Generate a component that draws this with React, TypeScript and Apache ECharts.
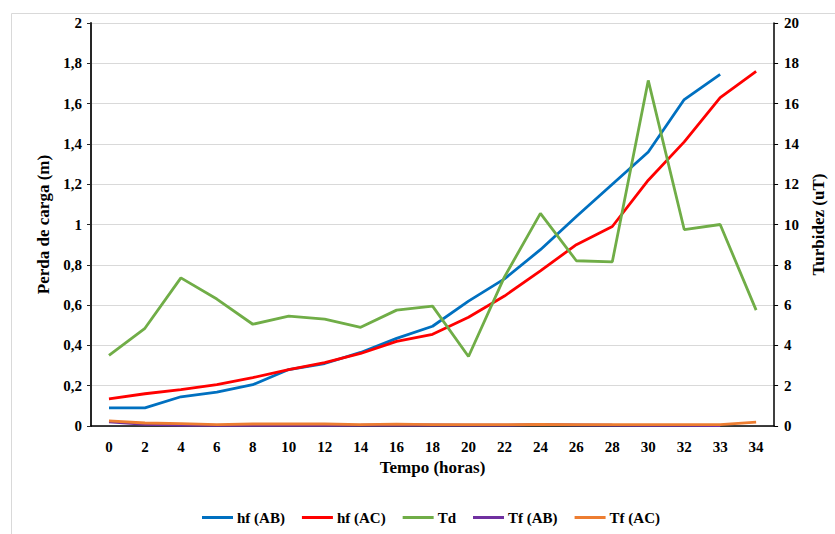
import React, { useEffect, useRef } from "react";
import * as echarts from "echarts";

const categories = ["0", "2", "4", "6", "8", "10", "12", "14", "16", "18", "20", "22", "24", "26", "28", "30", "32", "33", "34"];
const hfAB = [0.09, 0.09, 0.145, 0.168, 0.205, 0.28, 0.31, 0.365, 0.435, 0.495, 0.62, 0.73, 0.875, 1.04, 1.2, 1.36, 1.62, 1.745, null];
const hfAC = [0.135, 0.16, 0.18, 0.205, 0.24, 0.28, 0.315, 0.36, 0.42, 0.455, 0.54, 0.645, 0.77, 0.9, 0.99, 1.22, 1.41, 1.63, 1.76];
const td = [3.5, 4.85, 7.35, 6.3, 5.05, 5.45, 5.3, 4.9, 5.75, 5.95, 3.45, 7.4, 10.55, 8.2, 8.15, 17.15, 9.75, 10.0, 5.75];
const tfAB = [0.2, 0.08, 0.05, 0.03, 0.03, 0.03, 0.03, 0.04, 0.06, 0.05, 0.04, 0.04, 0.08, 0.06, 0.04, 0.03, 0.03, 0.02, null];
const tfAC = [0.25, 0.15, 0.12, 0.07, 0.1, 0.1, 0.1, 0.07, 0.09, 0.07, 0.07, 0.07, 0.08, 0.07, 0.07, 0.07, 0.07, 0.07, 0.19];

const FONT = "Liberation Serif";

export default function App() {
  const ref = useRef<HTMLDivElement>(null);
  useEffect(() => {
    if (!ref.current) return;
    const chart = echarts.init(ref.current, undefined, { renderer: "svg" });
    const lineSeries = (name: string, data: (number | null)[], color: string, yAxisIndex: number) => ({
      name,
      type: "line",
      data,
      yAxisIndex,
      symbol: "none",
      smooth: false,
      lineStyle: { color, width: 2.8 },
      itemStyle: { color },
    });
    const txt = (size: number) => ({ fontFamily: FONT, fontWeight: "bold", fontSize: size, color: "#000" });
    chart.setOption({
      animation: false,
      backgroundColor: "#fff",
      textStyle: { fontFamily: FONT },
      graphic: [
        {
          type: "rect",
          shape: { x: 11.5, y: 13.5, width: 840, height: 540 },
          style: { fill: "none", stroke: "#d9d9d9", lineWidth: 1 },
          silent: true,
        },
      ],
      grid: { left: 91, right: 58, top: 23, bottom: 108, containLabel: false },
      legend: {
        bottom: 4,
        left: 197,
        icon: "rect",
        itemWidth: 31,
        itemHeight: 3,
        itemGap: 17,
        textStyle: { ...txt(15), padding: [0, 0, 0, -1] },
      },
      xAxis: {
        type: "category",
        data: categories,
        boundaryGap: true,
        name: "Tempo (horas)",
        nameLocation: "middle",
        nameGap: 33,
        nameTextStyle: txt(17),
        axisLine: { lineStyle: { color: "#000", width: 1.5 } },
        axisTick: { show: false },
        axisLabel: { ...txt(15), margin: 13, interval: 0 },
      },
      yAxis: [
        {
          type: "value",
          min: 0,
          max: 2,
          interval: 0.2,
          name: "Perda de carga (m)",
          nameLocation: "middle",
          nameGap: 37,
          nameTextStyle: txt(17),
          axisLine: { show: true, lineStyle: { color: "#262626", width: 2 } },
          axisTick: { show: true, length: 4, lineStyle: { color: "#262626" } },
          splitLine: { show: true, lineStyle: { color: "#d9d9d9", width: 1 } },
          axisLabel: {
            ...txt(15),
            margin: 9,
            formatter: (v: number) => {
              const r = Math.round(v * 10) / 10;
              return String(r).replace(".", ",");
            },
          },
        },
        {
          type: "value",
          min: 0,
          max: 20,
          interval: 2,
          name: "Turbidez (uT)",
          nameLocation: "middle",
          nameGap: 32,
          nameTextStyle: txt(17),
          axisLine: { show: true, lineStyle: { color: "#000", width: 1.5 } },
          axisTick: { show: true, length: 4, lineStyle: { color: "#000" } },
          splitLine: { show: false },
          axisLabel: { ...txt(15), margin: 10 },
        },
      ],
      series: [
        lineSeries("hf (AB)", hfAB, "#0070C0", 0),
        lineSeries("hf (AC)", hfAC, "#FF0000", 0),
        lineSeries("Td", td, "#70AD47", 1),
        lineSeries("Tf (AB)", tfAB, "#7030A0", 1),
        lineSeries("Tf (AC)", tfAC, "#ED7D31", 1),
      ],
    });
    return () => chart.dispose();
  }, []);
  return <div ref={ref} style={{ position: "fixed", left: 0, top: 0, width: 835, height: 534 }} />;
}
